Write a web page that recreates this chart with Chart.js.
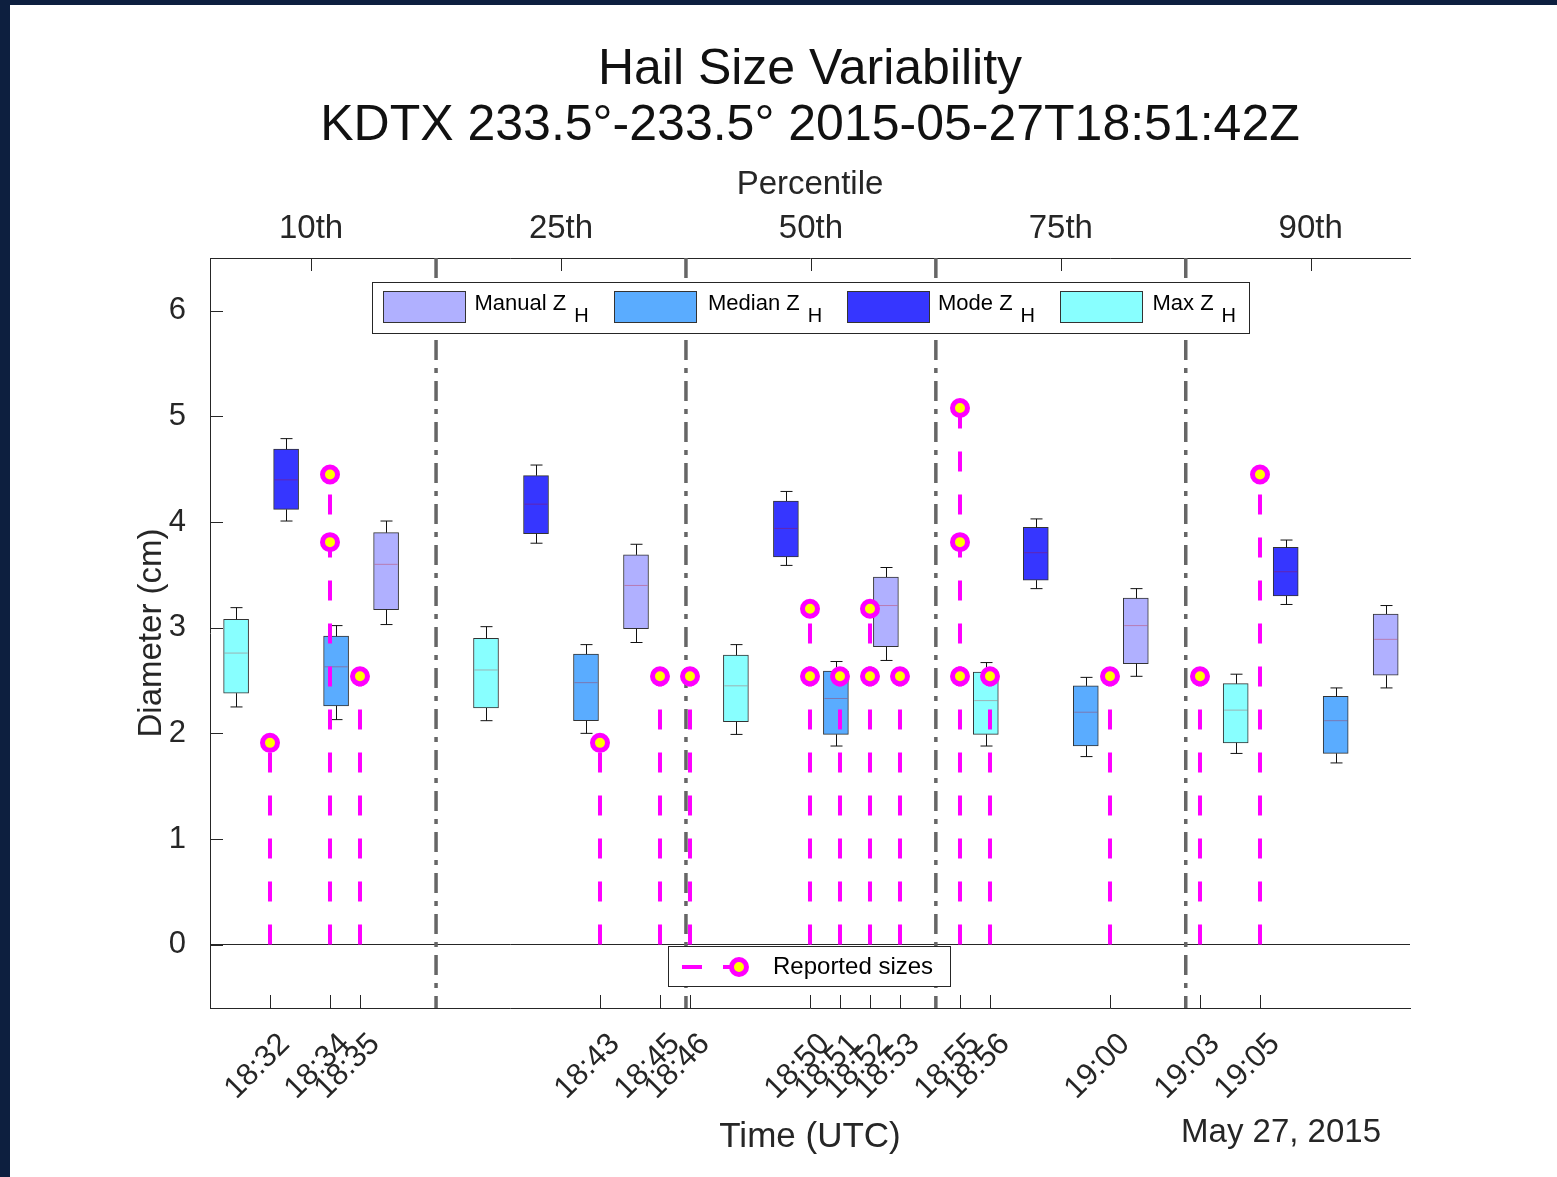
<!DOCTYPE html>
<html>
<head>
<meta charset="utf-8">
<title>Hail Size Variability</title>
<script src="https://cdn.jsdelivr.net/npm/chart.js@4.4.1/dist/chart.umd.min.js"></script>
<style>
  html, body { margin: 0; padding: 0; background: #0d1f3f; }
  #wrap { position: absolute; left: 10px; top: 5px; width: 1547px; height: 1172px; background: #fff; }
</style>
</head>
<body>
<div id="wrap"><canvas id="hailChart"></canvas></div>
<script>
// percentile groups (top axis), positions in minutes after 18:00
const percentiles = ['10th', '25th', '50th', '75th', '90th'];
const percentilePos = [33.37, 41.70, 50.03, 58.36, 66.69];
const sectionEdges = [37.535, 45.865, 54.195, 62.525];

// box stats per percentile: [low whisker, q1, median, q3, high whisker] (cm)
const manualZh = [[3.03, 3.17, 3.60, 3.90, 4.01], [2.86, 2.99, 3.40, 3.69, 3.79], [2.69, 2.82, 3.21, 3.48, 3.57], [2.54, 2.66, 3.02, 3.28, 3.37], [2.43, 2.55, 2.89, 3.13, 3.21]];
const medianZh = [[2.13, 2.26, 2.63, 2.92, 3.02], [2.00, 2.12, 2.48, 2.75, 2.84], [1.88, 1.99, 2.33, 2.59, 2.68], [1.78, 1.88, 2.20, 2.45, 2.53], [1.72, 1.81, 2.12, 2.35, 2.43]];
const modeZh = [[4.01, 4.12, 4.40, 4.69, 4.79], [3.80, 3.89, 4.17, 4.44, 4.54], [3.59, 3.67, 3.94, 4.20, 4.29], [3.37, 3.45, 3.71, 3.95, 4.03], [3.22, 3.30, 3.53, 3.76, 3.83]];
const maxZh = [[2.25, 2.38, 2.76, 3.08, 3.19], [2.12, 2.24, 2.60, 2.90, 3.01], [1.99, 2.11, 2.45, 2.74, 2.84], [1.88, 1.99, 2.31, 2.58, 2.67], [1.81, 1.91, 2.22, 2.47, 2.56]];

// reported hail (minutes after 18:00, sizes in cm)
const reportTimes = [32, 34, 35, 43, 45, 46, 50, 51, 52, 53, 55, 56, 60, 63, 65];
const reportSizes = [[1.91], [4.45, 3.81], [2.54], [1.91], [2.54], [2.54], [3.18, 2.54], [2.54], [3.18, 2.54], [2.54], [5.08, 3.81, 2.54], [2.54], [2.54], [2.54], [4.45]];

const yTicks = [0, 1, 2, 3, 4, 5, 6];

const textColor = '#262626';
const axisColor = '#262626';
const magenta = '#ff00ff';
Chart.defaults.font.family = '"Liberation Sans", Arial, Helvetica, sans-serif';
Chart.defaults.color = textColor;

const methods = [
  { name: 'Manual Z', stats: manualZh, color: '#b0b0ff', shift: 2.5 },
  { name: 'Median Z', stats: medianZh, color: '#5aacff', shift: 0.833 },
  { name: 'Mode Z', stats: modeZh, color: '#3636ff', shift: -0.833 },
  { name: 'Max Z', stats: maxZh, color: '#88ffff', shift: -2.5 }
];

const clock = m => (18 + Math.floor(m / 60)) + ':' + String(m % 60).padStart(2, '0');

const boxSets = methods.map(m => ({
  type: 'bar',
  label: m.name + 'H',
  data: m.stats.map((s, i) => ({ x: percentilePos[i] + m.shift, y: [s[1], s[3]], stats: s })),
  backgroundColor: m.color,
  borderColor: '#333',
  borderWidth: 1,
  borderSkipped: false,
  barThickness: 25,
  grouped: false,
  order: 3
}));

const stemData = [];
const dotData = [];
reportTimes.forEach((t, i) => {
  stemData.push({ x: t, y: 0 }, { x: t, y: Math.max(...reportSizes[i]) }, { x: t, y: null });
  reportSizes[i].forEach(v => dotData.push({ x: t, y: v }));
});

const hailPlugin = {
  id: 'hailExtras',
  beforeDatasetsDraw(chart) {
    const { ctx, chartArea } = chart;
    const x = chart.scales.x;
    ctx.save();
    ctx.strokeStyle = '#666';
    ctx.lineWidth = 3.5;
    ctx.setLineDash([20, 8, 5, 8]);
    sectionEdges.forEach(e => {
      const px = x.getPixelForValue(e);
      ctx.beginPath();
      ctx.moveTo(px, chartArea.top);
      ctx.lineTo(px, chartArea.bottom);
      ctx.stroke();
    });
    ctx.restore();
  },
  afterDatasetDraw(chart, args) {
    const ds = chart.data.datasets[args.index];
    if (ds.type !== 'bar') return;
    const { ctx } = chart;
    const y = chart.scales.y;
    ctx.save();
    args.meta.data.forEach((el, i) => {
      const s = ds.data[i].stats;
      const x = Math.round(el.x) + 0.5;
      const lo = y.getPixelForValue(s[0]), q1 = y.getPixelForValue(s[1]);
      const md = y.getPixelForValue(s[2]);
      const q3 = y.getPixelForValue(s[3]), hi = y.getPixelForValue(s[4]);
      ctx.strokeStyle = '#111';
      ctx.lineWidth = 1;
      ctx.beginPath();
      ctx.moveTo(x, lo); ctx.lineTo(x, q1);
      ctx.moveTo(x, q3); ctx.lineTo(x, hi);
      ctx.moveTo(x - 6, lo); ctx.lineTo(x + 6, lo);
      ctx.moveTo(x - 6, hi); ctx.lineTo(x + 6, hi);
      ctx.stroke();
      ctx.strokeStyle = 'rgba(200,0,0,0.3)';
      ctx.beginPath();
      ctx.moveTo(el.x - 11.5, md); ctx.lineTo(el.x + 11.5, md);
      ctx.stroke();
    });
    ctx.restore();
  },
  afterDraw(chart) {
    const { ctx, chartArea } = chart;
    const { x, x2, y } = chart.scales;
    ctx.save();
    // inward tick marks
    ctx.strokeStyle = axisColor;
    ctx.lineWidth = 1;
    ctx.beginPath();
    x.ticks.forEach(t => {
      const px = Math.round(x.getPixelForValue(t.value)) + 0.5;
      ctx.moveTo(px, chartArea.bottom); ctx.lineTo(px, chartArea.bottom - 13);
    });
    x2.ticks.forEach(t => {
      const px = Math.round(x2.getPixelForValue(t.value)) + 0.5;
      ctx.moveTo(px, chartArea.top); ctx.lineTo(px, chartArea.top + 13);
    });
    y.ticks.forEach(t => {
      const py = Math.round(y.getPixelForValue(t.value)) + 0.5;
      ctx.moveTo(chartArea.left, py); ctx.lineTo(chartArea.left + 13, py);
    });
    ctx.stroke();

    // date under the time axis
    ctx.fillStyle = textColor;
    ctx.font = '33px ' + Chart.defaults.font.family;
    ctx.textAlign = 'right';
    ctx.textBaseline = 'middle';
    ctx.fillText('May 27, 2015', 1371, 1128);

    // method legend
    ctx.fillStyle = '#fff';
    ctx.fillRect(362, 277, 877, 51);
    ctx.strokeStyle = axisColor;
    ctx.strokeRect(362.5, 277.5, 877, 51);
    const patchX = [373, 604, 837, 1050];
    const labelX = [464.5, 698, 928, 1142.5];
    methods.forEach((m, i) => {
      ctx.fillStyle = m.color;
      ctx.fillRect(patchX[i], 286, 83, 32);
      ctx.strokeStyle = '#333';
      ctx.strokeRect(patchX[i] + 0.5, 286.5, 82, 31);
      ctx.fillStyle = '#000';
      ctx.textAlign = 'left';
      ctx.textBaseline = 'alphabetic';
      ctx.font = '22px ' + Chart.defaults.font.family;
      ctx.fillText(m.name, labelX[i], 304.5);
      const w = ctx.measureText(m.name).width;
      ctx.font = '20px ' + Chart.defaults.font.family;
      ctx.fillText('H', labelX[i] + w + 8, 317);
    });

    // reported sizes legend
    ctx.fillStyle = '#fff';
    ctx.fillRect(658, 941, 282, 40);
    ctx.strokeStyle = axisColor;
    ctx.strokeRect(658.5, 941.5, 282, 40);
    ctx.strokeStyle = magenta;
    ctx.lineWidth = 4;
    ctx.beginPath();
    ctx.moveTo(672, 962); ctx.lineTo(692, 962);
    ctx.moveTo(713, 962); ctx.lineTo(729, 962);
    ctx.stroke();
    ctx.beginPath();
    ctx.arc(729, 962, 7.5, 0, Math.PI * 2);
    ctx.fillStyle = '#ffff00';
    ctx.fill();
    ctx.lineWidth = 5;
    ctx.stroke();
    ctx.fillStyle = '#000';
    ctx.font = '24px ' + Chart.defaults.font.family;
    ctx.textAlign = 'left';
    ctx.textBaseline = 'middle';
    ctx.fillText('Reported sizes', 763, 962);
    ctx.restore();
  }
};

new Chart(document.getElementById('hailChart'), {
  type: 'bar',
  data: {
    datasets: [
      ...boxSets,
      {
        type: 'line',
        label: 'Reported stems',
        data: stemData,
        borderColor: magenta,
        borderWidth: 4,
        borderDash: [20, 23],
        pointRadius: 0,
        spanGaps: false,
        order: 2
      },
      {
        type: 'scatter',
        label: 'Reported sizes',
        data: dotData,
        pointRadius: 7.5,
        pointBorderWidth: 5,
        pointBorderColor: magenta,
        pointBackgroundColor: '#ffff00',
        order: 1
      }
    ]
  },
  options: {
    responsive: true,
    maintainAspectRatio: false,
    animation: false,
    events: [],
    layout: { padding: { left: 0, right: 147, top: 0, bottom: 0 } },
    plugins: {
      legend: { display: false },
      tooltip: { enabled: false },
      title: {
        display: true,
        fullSize: false,
        text: ['Hail Size Variability', 'KDTX 233.5°-233.5° 2015-05-27T18:51:42Z'],
        color: '#111',
        font: { size: 50, weight: 'normal', lineHeight: 56 / 50 },
        padding: { top: 37, bottom: 0 }
      }
    },
    scales: {
      x: {
        type: 'linear',
        position: 'bottom',
        min: 30,
        max: 70,
        offset: false,
        afterBuildTicks: s => { s.ticks = reportTimes.map(v => ({ value: v })); },
        afterFit: s => { s.height = 169; },
        grid: { offset: false, drawOnChartArea: false, drawTicks: false },
        border: { color: axisColor, width: 1 },
        ticks: { autoSkip: false, minRotation: 45, maxRotation: 45, padding: 18, labelOffset: 15, color: textColor, font: { size: 31 }, callback: v => clock(v) },
        title: { display: true, text: 'Time (UTC)', color: textColor, font: { size: 35 }, padding: { top: 0, bottom: 19 } }
      },
      x2: {
        type: 'linear',
        position: 'top',
        min: 30,
        max: 70,
        offset: false,
        afterBuildTicks: s => { s.ticks = percentilePos.map(v => ({ value: v })); },
        afterFit: s => { s.height = 104; },
        grid: { offset: false, drawOnChartArea: false, drawTicks: false },
        border: { color: axisColor, width: 1 },
        ticks: { autoSkip: false, maxRotation: 0, padding: 9, color: textColor, font: { size: 33 }, callback: (v, i) => percentiles[i] },
        title: { display: true, text: 'Percentile', color: textColor, font: { size: 33 }, padding: { top: 11, bottom: 0 } }
      },
      y: {
        min: -0.6,
        max: 6.5,
        afterBuildTicks: s => { s.ticks = yTicks.map(v => ({ value: v })); },
        afterFit: s => { s.width = 200; },
        grid: { color: c => (c.tick && c.tick.value === 0 ? axisColor : 'rgba(0,0,0,0)'), drawTicks: false },
        border: { color: axisColor, width: 1 },
        ticks: { padding: 24, color: textColor, font: { size: 31 } },
        title: { display: true, text: 'Diameter (cm)', color: textColor, font: { size: 33 }, padding: { top: 122, bottom: 0 } }
      }
    }
  },
  plugins: [hailPlugin]
});
</script>
</body>
</html>
